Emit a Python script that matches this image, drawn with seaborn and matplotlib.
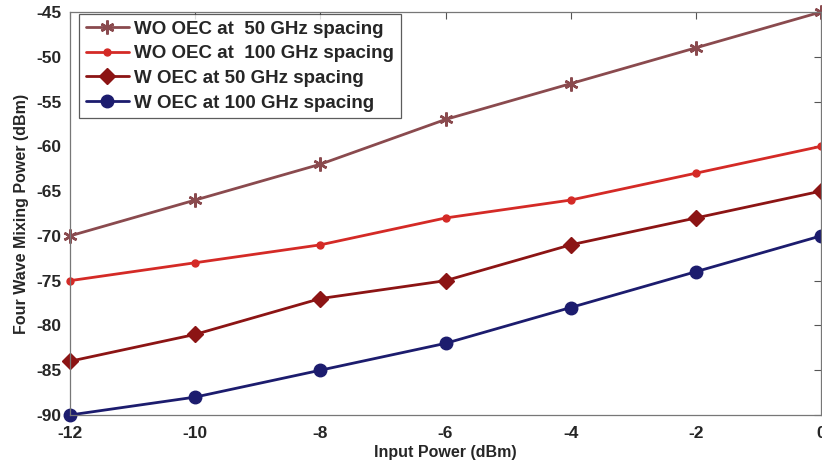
import matplotlib
matplotlib.use("Agg")
import matplotlib.pyplot as plt
import seaborn as sns
import pandas as pd

input_power = [-12, -10, -8, -6, -4, -2, 0]
wo_oec_50 = [-70, -66, -62, -57, -53, -49, -45]
wo_oec_100 = [-75, -73, -71, -68, -66, -63, -60]
w_oec_50 = [-84, -81, -77, -75, -71, -68, -65]
w_oec_100 = [-90, -88, -85, -82, -78, -74, -70]
labels = ["WO OEC at  50 GHz spacing", "WO OEC at  100 GHz spacing",
          "W OEC at 50 GHz spacing", "W OEC at 100 GHz spacing"]
x_ticks = [-12, -10, -8, -6, -4, -2, 0]
y_ticks = [-90, -85, -80, -75, -70, -65, -60, -55, -50, -45]

sns.set_theme(style="white")
plt.rcParams['font.family'] = ['Liberation Sans', 'DejaVu Sans']
plt.rcParams['font.weight'] = 'bold'
plt.rcParams['axes.unicode_minus'] = False

fig = plt.figure(figsize=(8.22, 4.67), dpi=100)
ax = fig.add_axes([70/822, 52/467, 751/822, 403/467])

series = [wo_oec_50, wo_oec_100, w_oec_50, w_oec_100]
colors = ["#8a4a4e", "#d42a26", "#8c1414", "#1c1c6e"]
markers = [(6, 2, 0), "o", "D", "o"]
msizes = [10, 5, 8, 9]
mews = [1.8, 1, 1, 1]

for vals, lab, c, m, ms, mew in zip(series, labels, colors, markers, msizes, mews):
    df = pd.DataFrame({"x": input_power, "y": vals})
    sns.lineplot(data=df, x="x", y="y", ax=ax, color=c, marker=m, markersize=ms,
                 markeredgecolor=c, markerfacecolor=c, markeredgewidth=mew,
                 linewidth=2, label=lab, clip_on=False)

ax.set_xlim(-12, 0)
ax.set_ylim(-90, -45)
ax.set_xticks(x_ticks)
ax.set_yticks(y_ticks)
ax.tick_params(direction="in", length=5, width=0.8, color="#555555",
               top=True, right=True, labelsize=12.5)
ax.tick_params(axis="x", pad=8)
ax.tick_params(axis="y", pad=6)
for lbl in ax.get_xticklabels() + ax.get_yticklabels():
    lbl.set_fontweight("bold")
for s in ax.spines.values():
    s.set_color("#777777")
    s.set_linewidth(0.9)
ax.set_xlabel("Input Power (dBm)", fontsize=11.5, fontweight="bold", labelpad=3)
ax.set_ylabel("Four Wave Mixing Power (dBm)", fontsize=11.5, fontweight="bold", labelpad=5)

leg = ax.legend(loc="upper left", bbox_to_anchor=(0.012, 0.995), fontsize=13.5,
                frameon=True, fancybox=False, edgecolor="#333333",
                handlelength=2.3, handletextpad=0.3, labelspacing=0.4,
                borderpad=0.35, borderaxespad=0.0)
leg.get_frame().set_linewidth(0.9)
for t in leg.get_texts():
    t.set_fontweight("bold")

fig.savefig("out.png", dpi=100)
